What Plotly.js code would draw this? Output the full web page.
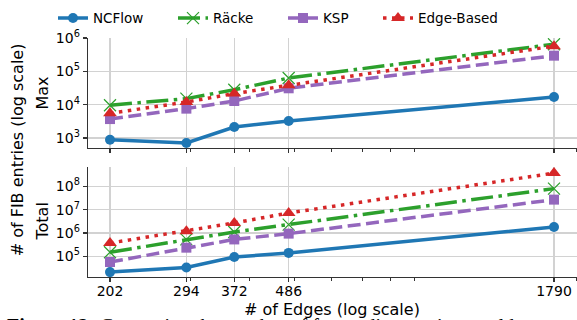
<!DOCTYPE html>
<html><head><meta charset="utf-8">
<script src="https://cdn.plot.ly/plotly-3.0.1.min.js"></script>
<style>html,body{margin:0;padding:0;background:#fff;}#chart{width:577px;height:320px;}</style>
</head><body><div id="chart"></div>
<script>
// ---- data ----
const edges = [202, 294, 372, 486, 1790];
const edgeLabels = ['202', '294', '372', '486', '1790'];
const seriesNames = ['NCFlow', 'Räcke', 'KSP', 'Edge-Based'];
const maxNCFlow = [890, 710, 2140, 3240, 17000];
const maxRacke = [9600, 15200, 28000, 63000, 650000];
const maxKSP = [3700, 7600, 12900, 31000, 295000];
const maxEdge = [5500, 12000, 21500, 38000, 570000];
const totNCFlow = [21000, 33000, 93000, 140000, 1800000];
const totRacke = [150000, 530000, 1100000, 2300000, 80000000];
const totKSP = [57000, 235000, 530000, 940000, 27000000];
const totEdge = [370000, 1200000, 2700000, 7200000, 370000000];
const maxTickVals = [1e3, 1e4, 1e5, 1e6];
const maxTickText = ['10<sup>3</sup>', '10<sup>4</sup>', '10<sup>5</sup>', '10<sup>6</sup>'];
const totTickVals = [1e5, 1e6, 1e7, 1e8];
const totTickText = ['10<sup>5</sup>', '10<sup>6</sup>', '10<sup>7</sup>', '10<sup>8</sup>'];
const minorX = [300, 400, 500, 600, 700, 800, 900, 2000];

// ---- geometry ----
const W = 577, H = 320, L = 88, R = 0, T = 37.7, B = 43.3;
const pw = W - L - R, ph = H - T - B;
const px = x => (x - L) / pw;
const py = y => (H - B - y) / ph;

const FONT = 'DejaVu Sans, Verdana, sans-serif';
const styles = [
  {color: '#1f77b4', dash: 'solid', symbol: 'circle', size: 10, mline: 0},
  {color: '#2ca02c', dash: '22px,5.5px,3.5px,5.5px', symbol: 'x-thin-open', size: 12, mline: 1.2},
  {color: '#9467bd', dash: '13px,5.5px', symbol: 'square', size: 10, mline: 0},
  {color: '#d62728', dash: '3.5px,5.5px', symbol: 'triangle-up', size: 12, mline: 0}
];
const legendIds = ['legend', 'legend2', 'legend3', 'legend4'];
const legendX = [53, 173, 283, 378];
const maxData = [maxNCFlow, maxRacke, maxKSP, maxEdge];
const totData = [totNCFlow, totRacke, totKSP, totEdge];

const traces = [];
maxData.forEach((ys, i) => {
  const s = styles[i];
  traces.push({x: edges, y: ys, xaxis: 'x2', yaxis: 'y2', type: 'scatter', mode: 'lines+markers',
    name: seriesNames[i], legendgroup: seriesNames[i], showlegend: true, legend: legendIds[i],
    line: {color: s.color, width: 3.5, dash: s.dash},
    marker: {symbol: s.symbol, size: s.size, color: s.color, line: {color: s.color, width: s.mline}}});
});
totData.forEach((ys, i) => {
  const s = styles[i];
  traces.push({x: edges, y: ys, xaxis: 'x', yaxis: 'y', type: 'scatter', mode: 'lines+markers',
    name: seriesNames[i], legendgroup: seriesNames[i], showlegend: false,
    line: {color: s.color, width: 3.5, dash: s.dash},
    marker: {symbol: s.symbol, size: s.size, color: s.color, line: {color: s.color, width: s.mline}}});
});

const axCommon = {
  showgrid: true, gridcolor: '#d2d2d2', gridwidth: 1.5, zeroline: false,
  showline: true, linecolor: '#333', linewidth: 1.3,
  ticks: 'outside', ticklen: 4, tickwidth: 1.2, tickcolor: '#333',
  tickfont: {family: FONT, size: 14, color: '#000'}
};
const xCommon = Object.assign({}, axCommon, {
  type: 'log', range: [Math.log10(202) - 22 / 468.5, Math.log10(1790) + 23 / 468.5],
  tickmode: 'array', tickvals: edges, ticktext: edgeLabels, ticklabelstandoff: -3,
  minor: {tickmode: 'array', tickvals: minorX, ticks: 'outside', ticklen: 2.5, tickwidth: 1, tickcolor: '#333', showgrid: false}
});

const layout = {
  width: W, height: H,
  margin: {l: L, r: R, t: T, b: B, pad: 0},
  paper_bgcolor: '#fff', plot_bgcolor: '#fff',
  font: {family: FONT, size: 13.5, color: '#000'},
  showlegend: true,
  xaxis: Object.assign({}, xCommon, {anchor: 'y', domain: [0, 1]}),
  xaxis2: Object.assign({}, xCommon, {anchor: 'y2', domain: [0, 1], matches: 'x', showticklabels: false}),
  yaxis: Object.assign({}, axCommon, {type: 'log', domain: [0, py(166.7)], range: [4.113, 8.83],
    tickmode: 'array', tickvals: totTickVals, ticktext: totTickText, anchor: 'x'}),
  yaxis2: Object.assign({}, axCommon, {type: 'log', domain: [py(147.7), 1], range: [2.7, 6.0],
    tickmode: 'array', tickvals: maxTickVals, ticktext: maxTickText, anchor: 'x2'}),
  annotations: [
    {text: '# of FIB entries (log scale)', textangle: -90, x: px(17), y: py(150), xref: 'paper', yref: 'paper',
      xanchor: 'center', yanchor: 'middle', showarrow: false, font: {family: FONT, size: 16, color: '#000'}},
    {text: 'Max', textangle: -90, x: px(41.5), y: py(92.7), xref: 'paper', yref: 'paper',
      xanchor: 'center', yanchor: 'middle', showarrow: false, font: {family: FONT, size: 16, color: '#000'}},
    {text: 'Total', textangle: -90, x: px(41.5), y: py(221.7), xref: 'paper', yref: 'paper',
      xanchor: 'center', yanchor: 'middle', showarrow: false, font: {family: FONT, size: 16, color: '#000'}},
    {text: '# of Edges (log scale)', x: px(332), y: py(309), xref: 'paper', yref: 'paper',
      xanchor: 'center', yanchor: 'middle', showarrow: false, font: {family: FONT, size: 16, color: '#000'}},
    {text: '<b>Figure 12:</b> Comparing the number of forwarding entries would', x: px(5), y: py(313), xref: 'paper', yref: 'paper',
      xanchor: 'left', yanchor: 'top', showarrow: false, font: {family: 'Liberation Serif, Times New Roman, serif', size: 20, color: '#000'}}
  ]
};
legendIds.forEach((id, i) => {
  layout[id] = {orientation: 'h', x: px(legendX[i]), y: py(18), xanchor: 'left', yanchor: 'middle',
    font: {family: FONT, size: 13.5, color: '#000'}, bgcolor: 'rgba(0,0,0,0)', itemwidth: 30};
});

Plotly.newPlot('chart', traces, layout, {displayModeBar: false, staticPlot: true});
</script>
</body></html>
